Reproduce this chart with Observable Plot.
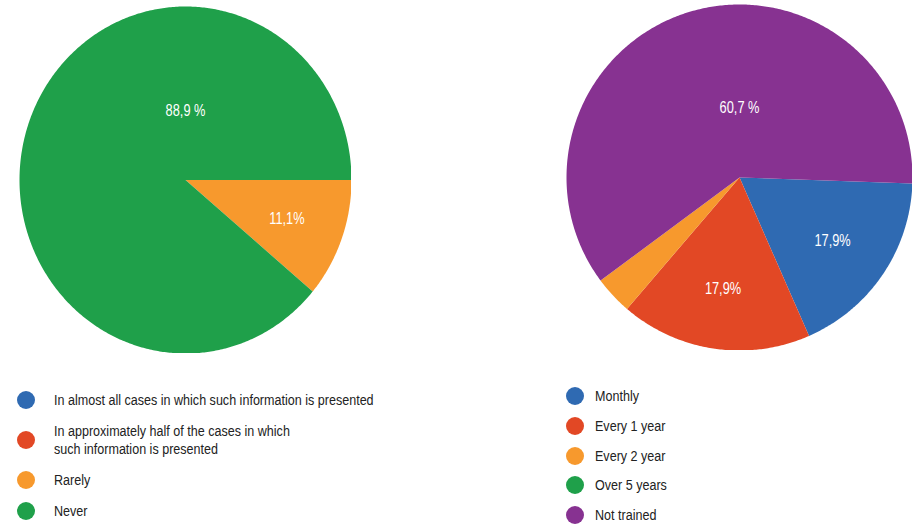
<!DOCTYPE html>
<html>
<head>
<meta charset="utf-8">
<script src="https://cdn.jsdelivr.net/npm/d3@7"></script>
<script src="https://cdn.jsdelivr.net/npm/@observablehq/plot@0.6"></script>
<style>
  html, body { margin: 0; padding: 0; background: #fff; }
  #root { position: relative; width: 920px; height: 528px; overflow: hidden; font-family: "Liberation Sans", Arial, sans-serif; }
  .pie { position: absolute; }
  .legend { position: absolute; display: flex; flex-direction: column; color: #222; }
  .item { display: flex; align-items: center; white-space: pre; }
  .sw { width: 18px; height: 18px; border-radius: 50%; flex: none; }
  .tx { display: inline-block; transform: scaleX(0.81); transform-origin: 0 50%; }
</style>
</head>
<body>
<div id="root"></div>
<script>
// ---- data ----
const leftCategories = [
  "In almost all cases in which such information is presented",
  "In approximately half of the cases in which\nsuch information is presented",
  "Rarely",
  "Never"
];
const leftCounts = [0, 0, 1, 8];
const leftLabels = ["", "", "11,1%", "88,9 %"];
const leftColors = ["#2f6ab2", "#e24825", "#f7992d", "#1fa04a"];

const rightCategories = ["Monthly", "Every 1 year", "Every 2 year", "Over 5 years", "Not trained"];
const rightCounts = [5, 5, 1, 0, 17];
const rightLabels = ["17,9%", "17,9%", "", "", "60,7 %"];
const rightColors = ["#2f6ab2", "#e24825", "#f7992d", "#1fa04a", "#873291"];

const FONT = "Liberation Sans, Arial, sans-serif";

function pieChart(cats, counts, labels, colors, opts) {
  const total = d3.sum(counts);
  let a = opts.startDeg * Math.PI / 180;
  const poly = [], lbl = [];
  counts.forEach((c, i) => {
    const span = c / total * 2 * Math.PI;
    if (c > 0) {
      const n = Math.max(2, Math.ceil(span / 0.01));
      poly.push({cat: cats[i], x: 0, y: 0});
      for (let j = 0; j <= n; j++) {
        const t = a + span * j / n;
        poly.push({cat: cats[i], x: Math.cos(t), y: -Math.sin(t)});
      }
      const mid = a + span / 2;
      if (labels[i]) {
        const big = c / total > 0.5;
        lbl.push(big
          ? {x: 0, y: 0.4, text: labels[i]}
          : {x: 0.65 * Math.cos(mid), y: -0.65 * Math.sin(mid), text: labels[i]});
      }
    }
    a += span;
  });
  const svg = Plot.plot({
    width: opts.width, height: opts.height, margin: 0,
    x: {domain: [-1, 1], axis: null},
    y: {domain: [-1, 1], axis: null},
    color: {domain: cats, range: colors},
    marks: [
      Plot.line(poly, {x: "x", y: "y", z: "cat", fill: "cat", stroke: "none", curve: "linear"}),
      Plot.text(lbl, {x: "x", y: "y", text: "text", fill: "white", fontSize: 16, fontFamily: FONT})
    ]
  });
  // condensed look for the slice labels
  svg.querySelectorAll("text").forEach(t => {
    const tr = t.getAttribute("transform") || "";
    t.setAttribute("transform", tr + " scale(0.8,1)");
  });
  return svg;
}

function legend(cats, colors, opts) {
  const div = document.createElement("div");
  div.className = "legend";
  Object.assign(div.style, {left: opts.left + "px", top: opts.top + "px", gap: opts.gap + "px", fontSize: opts.fontSize + "px", lineHeight: "18px"});
  cats.forEach((c, i) => {
    const it = document.createElement("div");
    it.className = "item";
    const sw = document.createElement("span");
    sw.className = "sw";
    sw.style.background = colors[i];
    sw.style.marginRight = opts.textGap + "px";
    const tx = document.createElement("span");
    tx.className = "tx";
    tx.textContent = c;
    it.append(sw, tx);
    div.append(it);
  });
  return div;
}

const root = document.getElementById("root");

const p1 = pieChart(leftCategories, leftCounts, leftLabels, leftColors, {startDeg: 0, width: 332, height: 347});
p1.classList.add("pie"); p1.style.left = "19px"; p1.style.top = "6px";
root.append(p1);

const p2 = pieChart(rightCategories, rightCounts, rightLabels, rightColors, {startDeg: 2, width: 346, height: 346});
p2.classList.add("pie"); p2.style.left = "566px"; p2.style.top = "4px";
root.append(p2);

root.append(legend(leftCategories, leftColors, {left: 17, top: 391, gap: 13, fontSize: 15.5, textGap: 19}));
root.append(legend(rightCategories, rightColors, {left: 566, top: 387, gap: 11.75, fontSize: 15.5, textGap: 11}));
</script>
</body>
</html>
